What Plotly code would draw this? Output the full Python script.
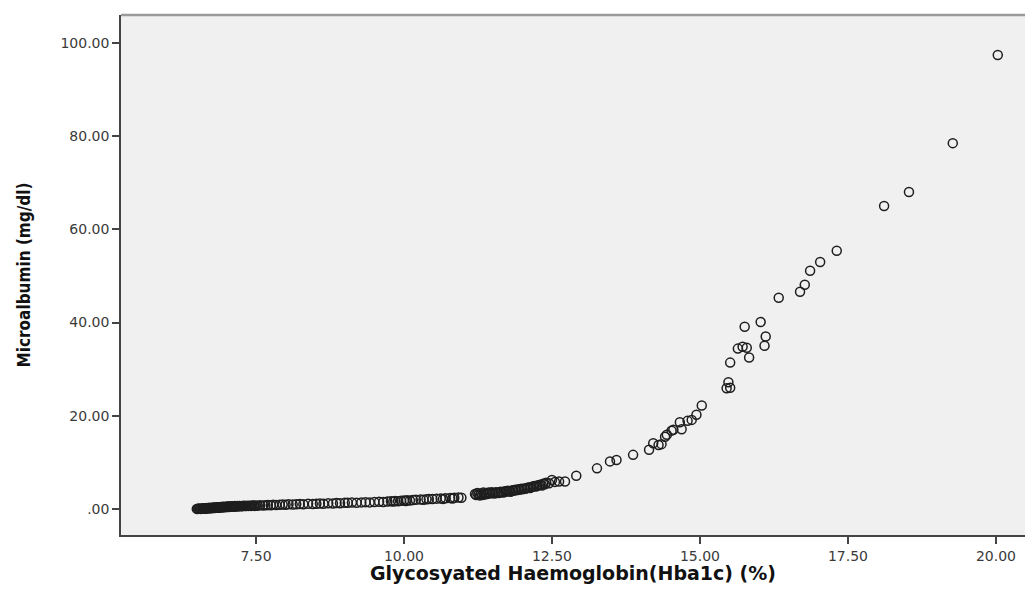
import plotly.graph_objects as go

# Glycosyated Haemoglobin (Hba1c, %) values
hba1c = [
    6.50, 6.52, 6.53, 6.55, 6.57, 6.58, 6.60, 6.61, 6.62, 6.64, 6.65, 6.67, 6.68, 6.70,
    6.71, 6.72, 6.74, 6.75, 6.77, 6.78, 6.80, 6.81, 6.83, 6.84, 6.85, 6.87, 6.88, 6.90,
    6.91, 6.93, 6.94, 6.95, 6.97, 6.98, 7.00, 7.01, 7.03, 7.04, 7.05, 7.07, 7.08, 7.10,
    7.11, 7.13, 7.14, 7.15, 7.17, 7.18, 7.20, 7.22, 7.23, 7.25, 7.27, 7.28, 7.30, 7.32,
    7.34, 7.36, 7.38, 7.40, 7.42, 7.44, 7.46, 7.48, 7.50,
    7.53, 7.57, 7.62, 7.66, 7.70, 7.75, 7.79, 7.84, 7.90, 7.95, 8.00, 8.05, 8.12, 8.18,
    8.24, 8.30, 8.38, 8.46, 8.52, 8.58, 8.64, 8.72, 8.80, 8.86, 8.92, 9.00,
    9.05, 9.12, 9.20, 9.28, 9.35, 9.42, 9.50, 9.58, 9.65, 9.72, 9.78, 9.82, 9.85, 9.90,
    9.95, 10.00, 10.03, 10.05, 10.10, 10.15, 10.20, 10.28, 10.33, 10.38, 10.42, 10.48,
    10.55, 10.62, 10.66, 10.70, 10.78, 10.82, 10.85, 10.92, 10.97,
    11.20, 11.22, 11.24, 11.26, 11.28, 11.30, 11.32, 11.34, 11.36, 11.38, 11.40, 11.43,
    11.45, 11.48, 11.50, 11.53, 11.55, 11.58, 11.60, 11.63, 11.65, 11.68, 11.70, 11.73,
    11.75, 11.78, 11.80, 11.83, 11.85, 11.88, 11.90, 11.93, 11.95, 11.98, 12.00, 12.03,
    12.05, 12.08, 12.10, 12.13, 12.15, 12.18, 12.20, 12.23, 12.25, 12.28, 12.30, 12.33,
    12.35, 12.38, 12.40, 12.45, 12.50, 12.55, 12.62,
    12.72, 12.91, 13.26, 13.48, 13.59, 13.87, 14.14, 14.21, 14.30, 14.35, 14.41, 14.44,
    14.52, 14.55, 14.66, 14.69, 14.79, 14.86, 14.94, 15.03, 15.45, 15.48, 15.51, 15.51,
    15.64, 15.72, 15.79, 15.755, 15.83, 16.025, 16.09, 16.11, 16.33, 16.69, 16.77, 16.86,
    17.03, 17.31, 18.11, 18.53, 19.27, 20.03,
]

# Microalbumin (mg/dl) values
microalbumin = [
    0.00, 0.00, 0.10, 0.05, 0.00, 0.10, 0.05, 0.15, 0.10, 0.05, 0.15, 0.20, 0.10, 0.20,
    0.15, 0.25, 0.20, 0.15, 0.25, 0.30, 0.20, 0.30, 0.25, 0.35, 0.30, 0.25, 0.35, 0.40,
    0.30, 0.35, 0.45, 0.40, 0.35, 0.45, 0.40, 0.50, 0.45, 0.40, 0.50, 0.55, 0.45, 0.50,
    0.55, 0.50, 0.60, 0.55, 0.50, 0.60, 0.55, 0.65, 0.60, 0.55, 0.65, 0.60, 0.70, 0.60,
    0.65, 0.70, 0.65, 0.70, 0.65, 0.75, 0.70, 0.65, 0.75,
    0.70, 0.80, 0.75, 0.80, 0.85, 0.80, 0.90, 0.85, 0.90, 0.95, 0.90, 1.00, 0.95, 1.00,
    1.05, 1.00, 1.10, 1.05, 1.10, 1.15, 1.10, 1.20, 1.15, 1.25, 1.20, 1.30,
    1.30, 1.35, 1.30, 1.40, 1.45, 1.40, 1.50, 1.55, 1.50, 1.60, 1.65, 1.60, 1.70, 1.65,
    1.75, 1.80, 1.70, 1.85, 1.80, 1.90, 1.95, 2.00, 1.95, 2.05, 2.10, 2.10,
    2.20, 2.25, 2.15, 2.30, 2.35, 2.25, 2.40, 2.45, 2.40,
    3.20, 3.00, 3.40, 3.10, 2.90, 3.30, 3.00, 3.50, 3.10, 3.40, 3.20, 3.50,
    3.30, 3.60, 3.40, 3.30, 3.60, 3.50, 3.40, 3.70, 3.60, 3.50, 3.80, 3.70,
    3.90, 3.80, 3.70, 4.00, 3.90, 4.10, 4.00, 4.20, 4.10, 4.30, 4.20, 4.40,
    4.30, 4.50, 4.60, 4.50, 4.70, 4.80, 4.90, 4.80, 5.00, 5.10, 5.20, 5.00,
    5.40, 5.30, 5.60, 5.50, 6.20, 5.80, 5.90,
    5.90, 7.10, 8.70, 10.20, 10.50, 11.60, 12.70, 14.10, 13.70, 13.90, 15.50, 15.90,
    16.80, 17.00, 18.60, 17.10, 18.90, 19.10, 20.20, 22.20, 25.90, 27.20, 26.00, 31.40,
    34.40, 34.80, 34.60, 39.10, 32.50, 40.10, 35.00, 37.00, 45.30, 46.60, 48.10, 51.10,
    53.00, 55.40, 65.00, 68.00, 78.50, 97.40,
]

x_ticks = [7.5, 10.0, 12.5, 15.0, 17.5, 20.0]
x_tick_labels = ["7.50", "10.00", "12.50", "15.00", "17.50", "20.00"]
y_ticks = [0, 20, 40, 60, 80, 100]
y_tick_labels = [".00", "20.00", "40.00", "60.00", "80.00", "100.00"]

fig = go.Figure(
    go.Scatter(
        x=hba1c,
        y=microalbumin,
        mode="markers",
        marker=dict(symbol="circle-open", size=9, color="#1e1e1e", line=dict(width=1.5, color="#1e1e1e")),
        showlegend=False,
        hoverinfo="x+y",
    )
)

tick_font = dict(family="DejaVu Sans, Verdana, sans-serif", size=14, color="#3a3a3a")

fig.update_layout(
    width=1017,
    height=576,
    margin=dict(l=113, r=0, t=7, b=49),
    paper_bgcolor="white",
    plot_bgcolor="#f0f0f0",
    xaxis=dict(
        range=[5.22, 20.49],
        tickmode="array",
        tickvals=x_ticks,
        ticktext=x_tick_labels,
        ticks="outside",
        ticklen=7,
        tickwidth=1.5,
        tickcolor="#444444",
        showgrid=False,
        zeroline=False,
        showline=True,
        linecolor="#444444",
        linewidth=1.5,
        tickfont=tick_font,
        automargin=False,
        title=dict(
            text="Glycosyated Haemoglobin(Hba1c) (%)",
            font=dict(family="DejaVu Sans, Verdana, sans-serif", size=19, color="#111111", weight="bold"),
            standoff=8,
        ),
    ),
    yaxis=dict(
        range=[-5.6, 106],
        tickmode="array",
        tickvals=y_ticks,
        ticktext=y_tick_labels,
        ticks="outside",
        ticklen=7,
        tickwidth=1.5,
        tickcolor="#444444",
        showgrid=False,
        zeroline=False,
        showline=True,
        linecolor="#444444",
        linewidth=1.5,
        tickfont=tick_font,
        title=dict(
            text="Microalbumin (mg/dl)",
            font=dict(family="Liberation Sans Narrow, DejaVu Sans Condensed, Arial Narrow, sans-serif", size=17, color="#111111", weight="bold"),
            standoff=26,
        ),
    ),
    shapes=[
        dict(type="line", xref="paper", yref="paper", x0=0, x1=1, y0=1, y1=1,
             line=dict(color="#9a9a9a", width=2.5)),
    ],
)

fig.write_html("out.html")
